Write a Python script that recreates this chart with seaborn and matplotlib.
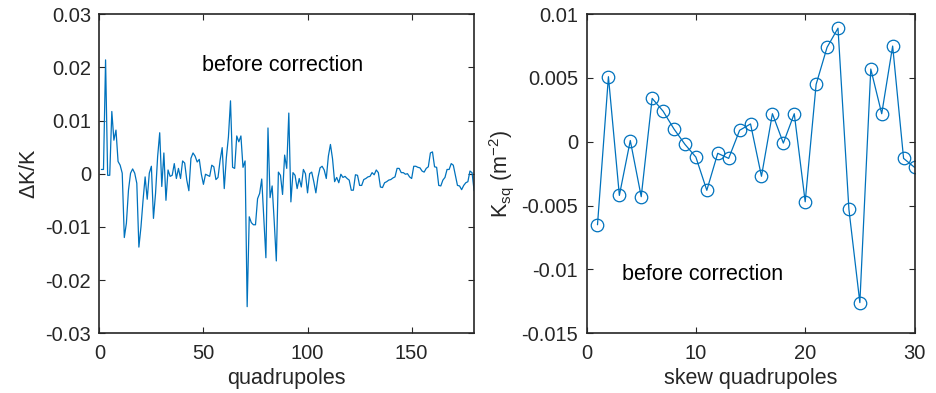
import numpy as np
import pandas as pd
import matplotlib
matplotlib.use("Agg")
import matplotlib.pyplot as plt
import seaborn as sns

# gradient errors per quadrupole (before correction)
dk_over_k = [
    0.0008, 0.0008, 0.0214, -0.0003, -0.0003, 0.0117, 0.0063, 0.0082, 0.0023, 0.0016,
    0.0001, -0.0120, -0.0093, -0.0031, 0.0001, 0.0009, 0.0001, -0.0018, -0.0138, -0.0100,
    -0.0050, -0.0006, -0.0048, 0.0001, 0.0014, -0.0084, -0.0037, 0.0032, 0.0077, -0.0024,
    0.0039, -0.0050, 0.0007, -0.0005, -0.0003, 0.0019, -0.0009, 0.0010, -0.0009, 0.0024,
    0.0020, -0.0012, -0.0032, 0.0029, 0.0039, 0.0033, 0.0022, 0.0027, -0.0001, -0.0020,
    -0.0001, -0.0003, -0.0005, 0.0016, 0.0013, -0.0011, -0.0007, 0.0025, 0.0049, -0.0028,
    0.0030, 0.0069, 0.0137, 0.0012, 0.0010, 0.0071, 0.0060, 0.0071, 0.0012, 0.0024,
    -0.0250, -0.0081, -0.0092, -0.0096, -0.0096, -0.0047, -0.0037, -0.0010, -0.0085, -0.0158,
    0.0086, -0.0045, -0.0023, -0.0090, -0.0164, 0.0003, -0.0003, -0.0039, 0.0035, 0.0010,
    0.0114, -0.0053, 0.0002, -0.0003, -0.0028, -0.0009, -0.0025, 0.0008, 0.0000, -0.0036,
    0.0000, 0.0003, -0.0015, -0.0036, -0.0007, 0.0011, 0.0014, 0.0007, -0.0009, 0.0033,
    0.0055, 0.0028, -0.0015, -0.0007, -0.0017, -0.0001, -0.0007, -0.0005, -0.0009, -0.0012,
    -0.0031, -0.0031, -0.0002, -0.0003, -0.0022, -0.0022, -0.0011, -0.0009, -0.0006, -0.0005,
    0.0002, -0.0002, 0.0007, 0.0002, -0.0025, -0.0026, -0.0017, -0.0015, -0.0012, -0.0011,
    -0.0008, -0.0006, 0.0010, 0.0010, 0.0002, 0.0002, -0.0001, 0.0000, -0.0006, -0.0009,
    0.0014, 0.0014, 0.0012, 0.0011, 0.0005, 0.0003, 0.0010, 0.0013, 0.0039, 0.0041,
    0.0013, 0.0012, -0.0022, -0.0023, -0.0012, -0.0007, 0.0008, 0.0008, 0.0019, 0.0016,
    -0.0003, -0.0022, -0.0023, -0.0030, -0.0022, -0.0017, -0.0015, 0.0005, 0.0002, -0.0032,
]
quad_index = list(range(1, len(dk_over_k) + 1))

# skew quadrupole strengths
ksq = [
    -0.0065, 0.0051, -0.0042, 0.0001, -0.0043, 0.0034, 0.0024, 0.0010, -0.0002, -0.0012,
    -0.0038, -0.0009, -0.0013, 0.0009, 0.0014, -0.0027, 0.0022, -0.0001, 0.0022, -0.0047,
    0.0045, 0.0074, 0.0089, -0.0053, -0.0126, 0.0057, 0.0022, 0.0075, -0.0013, -0.0020,
]
skew_index = list(range(1, len(ksq) + 1))

left_xticks = [0, 50, 100, 150]
left_yticks = [-0.03, -0.02, -0.01, 0, 0.01, 0.02, 0.03]
right_xticks = [0, 10, 20, 30]
right_yticks = [-0.015, -0.01, -0.005, 0, 0.005, 0.01]

df_quad = pd.DataFrame({"quad": quad_index, "dk": dk_over_k})
df_skew = pd.DataFrame({"skew": skew_index, "ksq": ksq})

sns.set_style("ticks")
plt.rcParams['font.family'] = ['Liberation Sans', 'DejaVu Sans']
plt.rcParams['mathtext.fontset'] = 'custom'
plt.rcParams['mathtext.rm'] = 'Liberation Sans'
plt.rcParams['mathtext.it'] = 'Liberation Sans:italic'
plt.rcParams['axes.unicode_minus'] = False

line_color = '#0072BD'
axis_color = '#262626'
tick_fs = 14.5
label_fs = 15.5

fig = plt.figure(figsize=(9.37, 3.93), dpi=100)
ax1 = fig.add_axes([0.106, 0.152, 0.400, 0.812])
ax2 = fig.add_axes([0.626, 0.152, 0.350, 0.812])


def style_axis(ax, xticks, yticks, xlim, ylim):
    ax.set_xlim(*xlim)
    ax.set_ylim(*ylim)
    ax.set_xticks(xticks)
    ax.set_yticks(yticks)
    ax.set_xticklabels([f"{t:g}" for t in xticks])
    ax.set_yticklabels([f"{t:g}" for t in yticks])
    ax.tick_params(direction='in', length=4, width=0.8, colors=axis_color,
                   labelsize=tick_fs, top=True, right=True)
    ax.tick_params(axis='x', pad=8)
    ax.tick_params(axis='y', pad=6)
    for s in ax.spines.values():
        s.set_visible(True)
        s.set_color(axis_color)
        s.set_linewidth(1.2)


# left: relative gradient errors
sns.lineplot(data=df_quad, x="quad", y="dk", ax=ax1, color=line_color, lw=0.9)
style_axis(ax1, left_xticks, left_yticks, (0, 180), (-0.03, 0.03))
ax1.set_xlabel("quadrupoles", fontsize=label_fs, color=axis_color, labelpad=3)
ax1.set_ylabel(r"$\Delta$K/K", fontsize=label_fs, color=axis_color, labelpad=4)
ax1.text(49.5, 0.0204, "before correction", fontsize=label_fs, va='center', color='black')

# right: skew quadrupole strengths
sns.lineplot(data=df_skew, x="skew", y="ksq", ax=ax2, color=line_color, lw=0.9,
             marker='o', markersize=9, markerfacecolor='none',
             markeredgecolor=line_color, markeredgewidth=0.9)
style_axis(ax2, right_xticks, right_yticks, (0, 30), (-0.015, 0.01))
ax2.set_xlabel("skew quadrupoles", fontsize=label_fs, color=axis_color, labelpad=3)
ax2.set_ylabel(r"K$_{\mathrm{sq}}$ (m$^{-2}$)", fontsize=label_fs, color=axis_color, labelpad=4)
ax2.text(3.2, -0.01036, "before correction", fontsize=label_fs, va='center', color='black')

fig.savefig("out.png", dpi=100)
